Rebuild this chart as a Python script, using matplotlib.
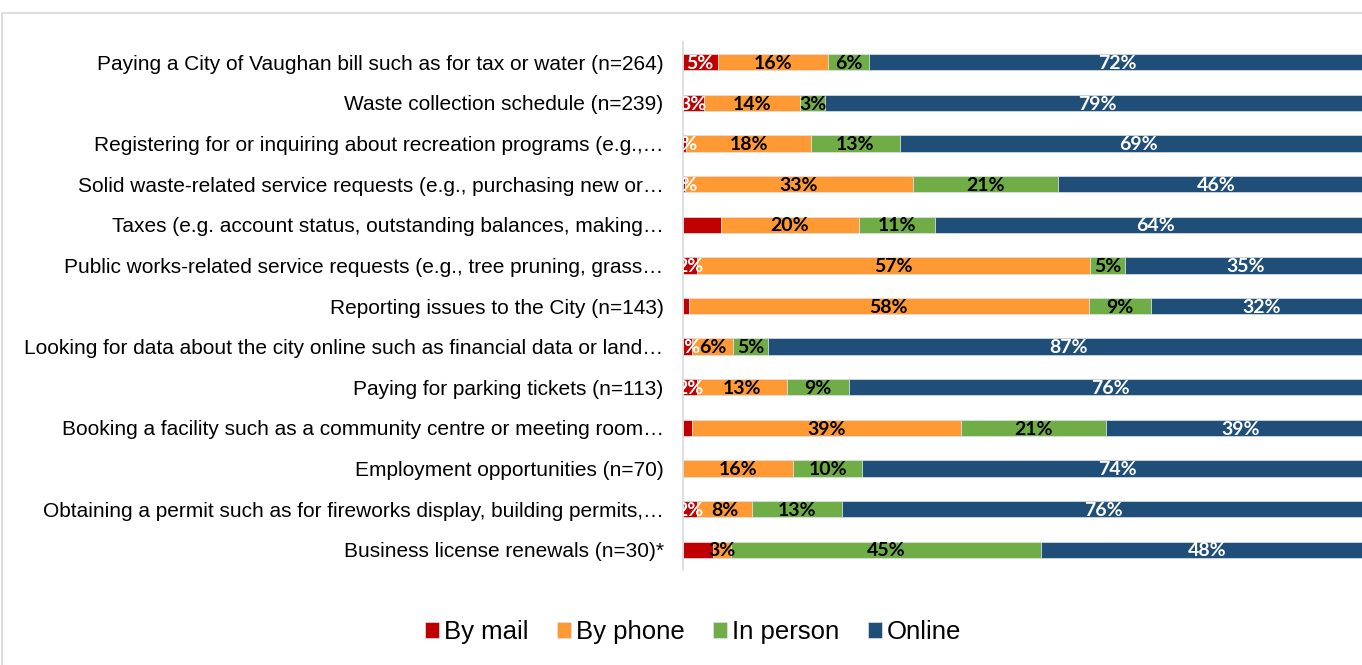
import numpy as np
import matplotlib.pyplot as plt
from matplotlib.patches import Rectangle

# data
categories = [
    "Paying a City of Vaughan bill such as for tax or water (n=264)",
    "Waste collection schedule (n=239)",
    "Registering for or inquiring about recreation programs (e.g.,\u2026",
    "Solid waste-related service requests (e.g., purchasing new or\u2026",
    "Taxes (e.g. account status, outstanding balances, making\u2026",
    "Public works-related service requests (e.g., tree pruning, grass\u2026",
    "Reporting issues to the City (n=143)",
    "Looking for data about the city online such as financial data or land\u2026",
    "Paying for parking tickets (n=113)",
    "Booking a facility such as a community centre or meeting room\u2026",
    "Employment opportunities (n=70)",
    "Obtaining a permit such as for fireworks display, building permits,\u2026",
    "Business license renewals (n=30)*",
]
series = ["By mail", "By phone", "In person", "Online"]

mail = [5, 3, 0.5, 0.3, 5.5, 2, 0.8, 1.3, 2, 1.3, 0, 2, 4.4]
phone = [16, 14, 18, 33, 20, 57, 58, 6, 13, 39, 16, 8, 2.5]
person = [6, 3.6, 13, 21, 11, 5, 9, 5, 9, 21, 10, 13, 45]
online = [72, 79, 69, 46, 64, 35, 32, 87, 76, 39, 74, 76, 48]

mail_lbl = ["5%", "3%", "1%", "0%", "", "2%", "", "1%", "2%", "", "", "2%", ""]
phone_lbl = ["16%", "14%", "18%", "33%", "20%", "57%", "58%", "6%", "13%", "39%", "16%", "8%", "3%"]
person_lbl = ["6%", "3%", "13%", "21%", "11%", "5%", "9%", "5%", "9%", "21%", "10%", "13%", "45%"]
online_lbl = ["72%", "79%", "69%", "46%", "64%", "35%", "32%", "87%", "76%", "39%", "74%", "76%", "48%"]

colors = ["#C00000", "#FF9933", "#70AD47", "#1F4E79"]
txt_colors = ["white", "black", "black", "white"]

fig = plt.figure(figsize=(13.62, 6.65), dpi=100)

# light frame around the chart area
fig.patches.append(Rectangle((2/1362, -0.1), 1.2, 1 - 13/665 + 0.1, transform=fig.transFigure,
                             fill=False, edgecolor="#d9d9d9", linewidth=1.2))

ax = fig.add_axes([683/1362, 1 - 570/665, 690/1362, 528/665])

y = np.arange(len(categories))
left = np.zeros(len(categories))
all_vals = [mail, phone, person, online]
all_lbls = [mail_lbl, phone_lbl, person_lbl, online_lbl]
for vals, lbls, c, tc, name in zip(all_vals, all_lbls, colors, txt_colors, series):
    vals = np.array(vals, dtype=float)
    ax.barh(y, vals, left=left, height=0.4, color=c, label=name,
            edgecolor="#dde3ea", linewidth=0.5)
    for yi, (l, v, s) in enumerate(zip(left, vals, lbls)):
        if s:
            ax.text(l + v/2, yi + 0.03, s, ha="center", va="center", color=tc,
                    fontsize=14, fontweight="bold", family="Lato", clip_on=True)
    left = left + vals

ax.set_xlim(0, 100)
ax.set_ylim(len(categories) - 0.5, -0.5)
ax.set_yticks(y)
ax.set_yticklabels(categories, fontsize=15, family="Liberation Sans")
ax.tick_params(axis="y", length=0, pad=14)
ax.set_xticks([])
for s in ["top", "right", "bottom"]:
    ax.spines[s].set_visible(False)
ax.spines["left"].set_color("#d9d9d9")
ax.spines["left"].set_linewidth(1.2)

fig.legend(loc="center", bbox_to_anchor=(693/1362, 1 - 632/665), ncol=4, frameon=False,
           prop={"family": "Liberation Sans", "size": 18.5},
           handlelength=0.55, handleheight=0.55, handletextpad=0.2, columnspacing=1.1)

fig.savefig("out.png", dpi=100)
